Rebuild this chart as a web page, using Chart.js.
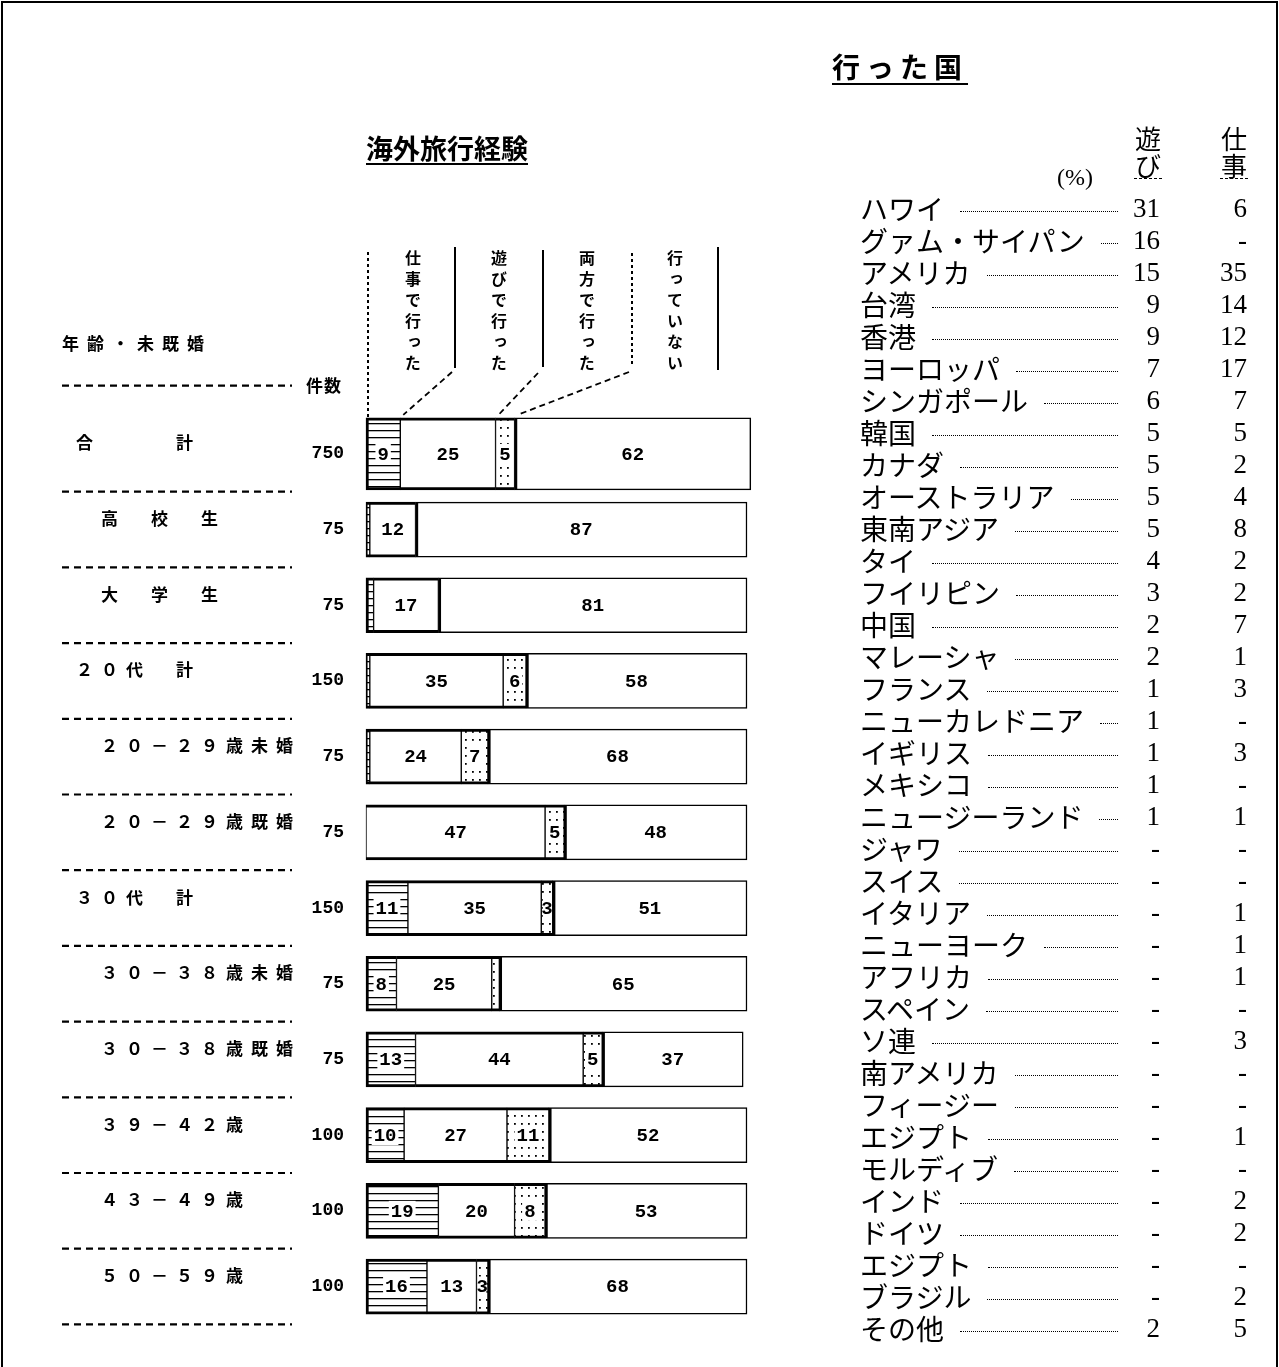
<!DOCTYPE html>
<html lang="ja">
<head>
<meta charset="utf-8">
<script src="https://cdn.jsdelivr.net/npm/chart.js@4.4.0/dist/chart.umd.min.js"></script>
<style>
html, body { margin: 0; padding: 0; background: #fff; }
body { width: 1279px; height: 1367px; position: relative; overflow: hidden; color: #000;
       font-family: "Noto Sans CJK JP", sans-serif; }
#c { position: absolute; left: 0; top: 0; }
#frame { position: absolute; left: 1px; top: 1px; width: 1273px; height: 1400px; border: 2px solid #000; }
.abs { position: absolute; white-space: nowrap; }
#title { left: 366px; top: 128px; font-size: 27px; font-weight: 700; text-decoration: underline;
         text-decoration-thickness: 2px; text-underline-offset: 4px; }
#ageHead { left: 62px; top: 330px; font-size: 17px; font-weight: 700; letter-spacing: 8px; }
#countHead { left: 306px; top: 372px; font-size: 17px; font-weight: 700; letter-spacing: 1px; }
.vh { top: 250px; font-size: 16px; font-weight: 700; letter-spacing: 5px; writing-mode: vertical-rl; }
#tblTitle { left: 832px; top: 46px; font-size: 28px; font-weight: 700; letter-spacing: 6px;
            text-decoration: underline; text-decoration-thickness: 2px; text-underline-offset: 5px; }
.colHead { top: 124px; font-size: 26px; line-height: 27px; width: 28px; text-align: center;
           border-bottom: 1.5px dashed #000; }
#pct { left: 1057px; top: 164px; font: 24px "Liberation Serif", serif; }
#tbl { left: 860px; top: 192px; }
.row { position: relative; height: 32px; width: 258px; display: flex; align-items: center; }
.nm { font-size: 28px; line-height: 32px; white-space: nowrap; }
.ld { flex: 1; margin-left: 16px; margin-top: 6px; height: 0; border-bottom: 1.2px dotted #000; }
.v { position: absolute; top: 0; width: 50px; text-align: right; font: 27px/32px "Liberation Serif", serif; }
.v1 { left: 250px; }
.v2 { left: 337px; }
</style>
</head>
<body>
<canvas id="c" width="1279" height="1367"></canvas>
<div id="frame"></div>

<div id="title" class="abs">海外旅行経験</div>
<div id="ageHead" class="abs">年齢・未既婚</div>
<div id="countHead" class="abs">件数</div>
<div class="abs vh" style="left:401px">仕事で行った</div>
<div class="abs vh" style="left:487px">遊びで行った</div>
<div class="abs vh" style="left:575px">両方で行った</div>
<div class="abs vh" style="left:663px">行っていない</div>

<div id="tblTitle" class="abs">行った国</div>
<div class="abs colHead" style="left:1134px">遊<br>び</div>
<div class="abs colHead" style="left:1220px">仕<br>事</div>
<div id="pct" class="abs">(%)</div>
<div id="tbl" class="abs"></div>

<script>
// 海外旅行経験 (%)
const categories = ['合　　　計', '　高　校　生', '　大　学　生', '２０代　計',
    '　２０－２９歳未婚', '　２０－２９歳既婚', '３０代　計', '　３０－３８歳未婚',
    '　３０－３８歳既婚', '　３９－４２歳', '　４３－４９歳', '　５０－５９歳'];
const counts = [750, 75, 75, 150, 75, 75, 150, 75, 75, 100, 100, 100];
const seriesNames = ['仕事で行った', '遊びで行った', '両方で行った', '行っていない'];
const work    = [9, 1, 2, 1, 1, 0, 11, 8, 13, 10, 19, 16];
const leisure = [25, 12, 17, 35, 24, 47, 35, 25, 44, 27, 20, 13];
const both    = [5, 0, 0, 6, 7, 5, 3, 2, 5, 11, 8, 3];
const never   = [62, 87, 81, 58, 68, 48, 51, 65, 37, 52, 53, 68];

// 行った国 (%)
const countries = ['ハワイ', 'グァム・サイパン', 'アメリカ', '台湾', '香港', 'ヨーロッパ',
    'シンガポール', '韓国', 'カナダ', 'オーストラリア', '東南アジア', 'タイ', 'フイリピン',
    '中国', 'マレーシャ', 'フランス', 'ニューカレドニア', 'イギリス', 'メキシコ',
    'ニュージーランド', 'ジャワ', 'スイス', 'イタリア', 'ニューヨーク', 'アフリカ',
    'スペイン', 'ソ連', '南アメリカ', 'フィージー', 'エジプト', 'モルディブ', 'インド',
    'ドイツ', 'エジプト', 'ブラジル', 'その他'];
const playPct = [31, 16, 15, 9, 9, 7, 6, 5, 5, 5, 5, 4, 3, 2, 2, 1, 1, 1, 1, 1,
    null, null, null, null, null, null, null, null, null, null, null, null, null, null, null, 2];
const jobPct = [6, null, 35, 14, 12, 17, 7, 5, 2, 4, 8, 2, 2, 7, 1, 3, null, 3, null, 1,
    null, null, 1, 1, 1, null, 3, null, null, 1, null, 2, 2, null, 2, 5];

// table
const tbl = document.getElementById('tbl');
const fmt = v => (v === null ? '-' : String(v));
countries.forEach((name, i) => {
    const row = document.createElement('div');
    row.className = 'row';
    row.innerHTML = '<span class="nm">' + name + '</span><span class="ld"></span>' +
        '<span class="v v1">' + fmt(playPct[i]) + '</span><span class="v v2">' + fmt(jobPct[i]) + '</span>';
    tbl.appendChild(row);
});

// fill patterns
function makePattern(draw, w, h) {
    const c = document.createElement('canvas');
    c.width = w; c.height = h;
    const g = c.getContext('2d');
    g.fillStyle = '#fff';
    g.fillRect(0, 0, w, h);
    g.fillStyle = '#000';
    draw(g);
    return document.getElementById('c').getContext('2d').createPattern(c, 'repeat');
}
const hatch = makePattern(g => g.fillRect(0, 3, 8, 1.3), 8, 7);
const dots = makePattern(g => g.fillRect(3, 3, 1.8, 1.8), 7, 8);

const fills = [hatch, '#fff', dots, '#fff'];
const patterned = [true, false, true, false];
const borders = [
    { top: 3, bottom: 3, left: 3, right: 1 },
    { top: 3, bottom: 3, left: 1, right: 1 },
    { top: 3, bottom: 3, left: 1, right: 1 },
    { top: 1.5, bottom: 1.5, left: 3, right: 1.5 }
];
const series = [work, leisure, both, never];

// 合計 row is drawn thicker than the others
const datasets = [];
[true, false].forEach(isTotal => {
    series.forEach((arr, s) => {
        datasets.push({
            label: seriesNames[s],
            data: arr.map((v, i) => ((i === 0) === isTotal ? v : null)),
            backgroundColor: fills[s],
            borderColor: '#000',
            borderWidth: borders[s],
            borderSkipped: false,
            barThickness: isTotal ? 72 : 55,
            clip: false,
            patterned: patterned[s]
        });
    });
});

const barText = {
    id: 'barText',
    afterDatasetsDraw(chart) {
        const ctx = chart.ctx;
        ctx.save();
        ctx.font = 'bold 19px "Liberation Mono", monospace';
        ctx.textAlign = 'center';
        ctx.textBaseline = 'middle';
        chart.data.datasets.forEach((ds, di) => {
            chart.getDatasetMeta(di).data.forEach((el, i) => {
                const v = ds.data[i];
                if (v === null || v < 3) return;
                const p = el.getCenterPoint();
                if (ds.patterned) {
                    const tw = ctx.measureText(String(v)).width + 4;
                    const w = Math.min(tw, Math.abs(el.x - el.base) - 3);
                    ctx.fillStyle = '#fff';
                    ctx.fillRect(p.x - w / 2, p.y - 10, w, 20);
                }
                ctx.fillStyle = '#000';
                ctx.fillText(String(v), p.x, p.y + 1);
            });
        });
        ctx.restore();
    }
};

const sideText = {
    id: 'sideText',
    afterDraw(chart) {
        const ctx = chart.ctx;
        const y = chart.scales.y;
        const step = y.getPixelForValue(1) - y.getPixelForValue(0);
        ctx.save();
        ctx.fillStyle = '#000';
        ctx.strokeStyle = '#000';
        ctx.textBaseline = 'middle';

        ctx.textAlign = 'left';
        ctx.font = 'bold 17px "Noto Sans CJK JP", sans-serif';
        ctx.letterSpacing = '8px';
        categories.forEach((c, i) => ctx.fillText(c, 76, y.getPixelForValue(i) - 11));
        ctx.letterSpacing = '0px';

        ctx.textAlign = 'right';
        ctx.font = 'bold 18px "Liberation Mono", monospace';
        counts.forEach((n, i) => ctx.fillText(String(n), 344, y.getPixelForValue(i)));

        // dashed row separators
        ctx.lineWidth = 2.2;
        ctx.setLineDash([7, 5]);
        const seps = [y.getPixelForValue(0) - step * 0.9];
        categories.forEach((c, i) => seps.push(y.getPixelForValue(i) + step / 2));
        seps.forEach(sy => {
            ctx.beginPath(); ctx.moveTo(62, sy); ctx.lineTo(292, sy); ctx.stroke();
        });

        // column header rules and leaders to the 合計 bar
        const b0 = chart.getDatasetMeta(0).data[0];
        const top0 = b0.y - b0.height / 2;
        const ends = [0, 1, 2].map(d => chart.getDatasetMeta(d).data[0].x);
        const vline = (x, y1, y2, dash) => {
            ctx.setLineDash(dash);
            ctx.beginPath(); ctx.moveTo(x, y1); ctx.lineTo(x, y2); ctx.stroke();
        };
        ctx.lineWidth = 2;
        vline(368, 252, top0, [3, 3]);
        vline(455, 247, 368, []);
        vline(543, 250, 367, []);
        vline(632, 253, 367, [3, 3]);
        vline(718, 247, 370, []);
        ctx.lineWidth = 1.8;
        ctx.setLineDash([6, 4]);
        [[452, 372], [538, 373], [629, 372]].forEach((s, k) => {
            ctx.beginPath();
            ctx.moveTo(s[0], s[1]);
            ctx.lineTo(ends[k] + 3, top0 - 3);
            ctx.stroke();
        });
        ctx.restore();
    }
};

new Chart(document.getElementById('c'), {
    type: 'bar',
    data: { labels: categories, datasets: datasets },
    options: {
        indexAxis: 'y',
        responsive: false,
        animation: false,
        layout: { padding: { left: 366, right: 532, top: 416, bottom: 42.6 } },
        scales: {
            x: { display: false, stacked: true, min: 0, max: 100 },
            y: { display: false, stacked: true }
        },
        plugins: {
            legend: { display: false },
            tooltip: { enabled: false }
        }
    },
    plugins: [barText, sideText]
});
</script>
</body>
</html>
